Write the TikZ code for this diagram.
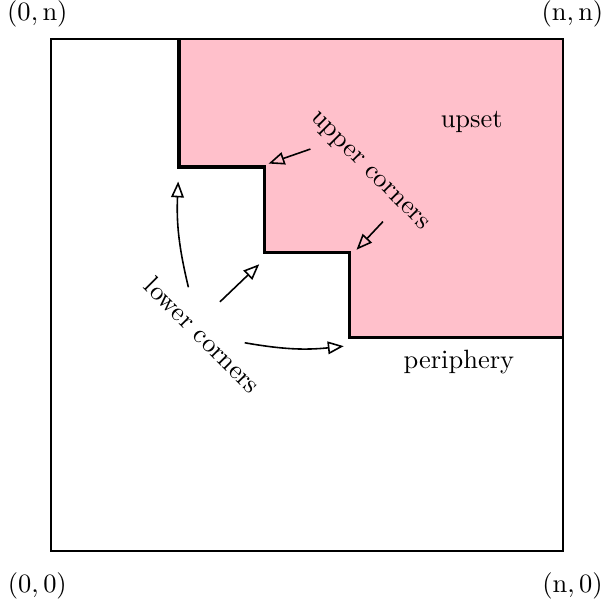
\documentclass[tikz,border=0pt]{standalone}
\usetikzlibrary{arrows.meta}
\definecolor{upsetpink}{RGB}{255,192,203}
\begin{document}
\begin{tikzpicture}[x=1.133cm, y=1.133cm, line join=miter, >={Triangle[open,length=6pt,width=4.8pt]}]
		\useasboundingbox (-0.598,-0.680) rectangle (6.527,6.457);
		% Das Gitter [0,n]^2
		\node (ll) at (-0.16,-0.41) {$(0,0)$};
		\node (lr) at (6.11,-0.41) {$(\mathrm{n},0)$};
		\node (ul) at (-0.16,6.29) {$(0,\mathrm{n})$};
		\node (ur) at (6.11,6.29) {$(\mathrm{n},\mathrm{n})$};
		% Upset mit Treppenrand
		\fill[upsetpink] (1.5,6) -- (1.5,4.5) -- (2.5,4.5) -- (2.5,3.5) -- (3.5,3.5) -- (3.5,2.5) -- (6,2.5) -- (6,6) -- cycle;
		\draw[very thick] (1.5,6) -- (1.5,4.5) -- (2.5,4.5) -- (2.5,3.5) -- (3.5,3.5) -- (3.5,2.5) -- (6,2.5);
		\draw[semithick] (0,0) rectangle (6,6);
		\node (upset) at (4.93,5.03) {upset};
		\node (periphery) at (4.78,2.21) {periphery};
		% Ecken
		\coordinate (u1) at (2.55,4.54);
		\coordinate (u2) at (3.58,3.53);
		\coordinate (l1) at (1.49,4.33);
		\coordinate (l2) at (2.44,3.36);
		\coordinate (l3) at (3.43,2.40);
		\node[rotate=-45] (upper) at (3.72,4.44) {upper corners};
		\node[rotate=-45] (lower) at (1.78,2.53) {lower corners};
		\draw[semithick, ->] (3.04,4.71) -- (u1);
		\draw[semithick, ->] (3.89,3.86) -- (u2);
		\draw[semithick, ->] (1.61,3.09) to[bend left=8] (l1);
		\draw[semithick, ->] (1.98,2.92) -- (l2);
		\draw[semithick, ->] (2.27,2.44) to[bend right=8] (l3);
	\end{tikzpicture}
\end{document}
